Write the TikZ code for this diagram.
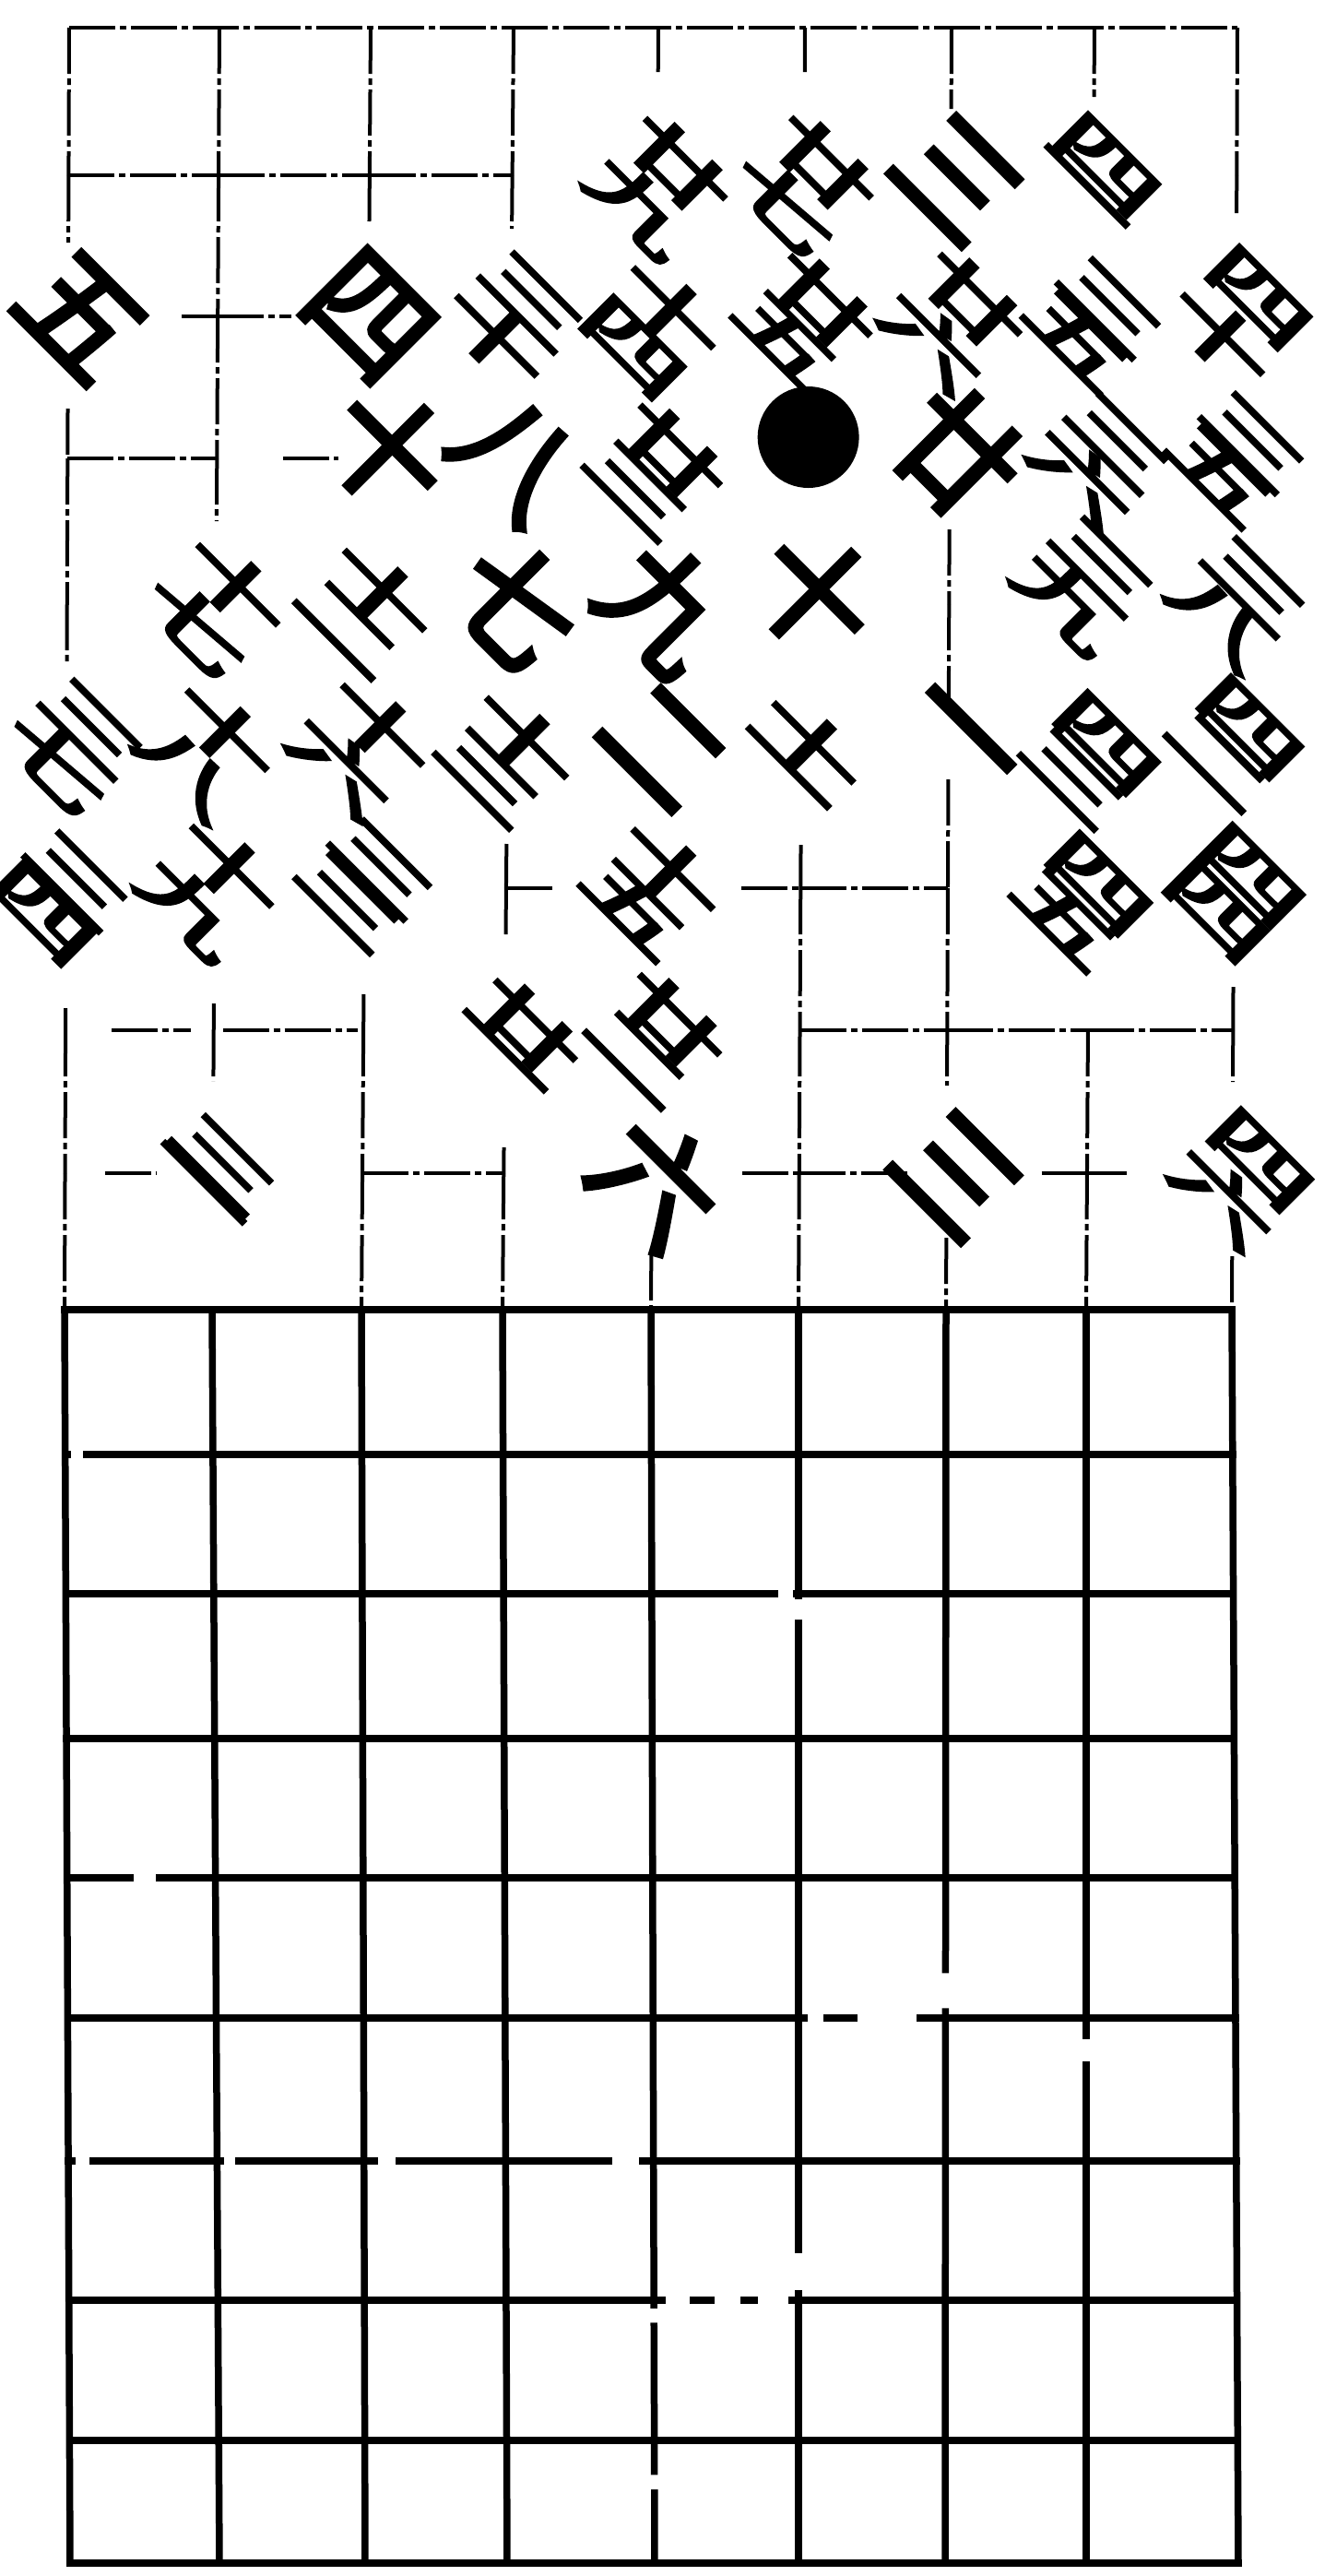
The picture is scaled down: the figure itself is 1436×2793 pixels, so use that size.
\documentclass[tikz,border=0pt]{standalone}
\usepackage{fontspec}
\usepackage{graphicx}
\newfontfamily\cjk[FakeBold=4]{Noto Sans CJK SC}
\usetikzlibrary{calc}
\newcommand\twoch[2]{\vbox{\offinterlineskip\hbox to 1em{\hss\scalebox{1}[0.5]{#1}\hss}\kern2pt\hbox to 1em{\hss\scalebox{1}[0.5]{#2}\hss}}}
\tikzset{
 topln/.style={line width=4pt, dash pattern=on 50pt off 5pt on 7pt off 5pt},
 botln/.style={line width=7.5pt, line cap=rect},
 gap/.style={white, line width=14pt},
 num/.style={font=\cjk\fontsize{132}{132}\selectfont, rotate=-45, inner sep=0pt},
 stone/.style={circle, fill=black, inner sep=0pt, minimum size=110pt},
}
\newcommand\seg[4]{\draw[topln] ($(#1)!#3pt!(#2)$) -- ($(#2)!#4pt!(#1)$);}
\newcommand\gp[4]{\draw[gap] ($(#1)!#3!(#2)$) -- ($(#1)!#4!(#2)$);}
\begin{document}
\begin{tikzpicture}[x=1pt,y=-1pt]
\useasboundingbox (0,0) rectangle (1436,2793);
\fill[white] (0,0) rectangle (1436,2793);
\def\XT{{75,238,402,557,714,873,1032,1187,1342}}
\def\XM{{70,230,392,545,706,866,1026,1178,1336}}
\def\XE{{76,238,396,550,710,866,1025,1178,1343}}
\def\YT{{30,190,343,497,655,810,963,1117,1272,1420}}
\def\YB{{1420,1577,1728,1885,2036,2188,2343,2494,2646,2779}}
\foreach \c in {0,...,8}{
 \foreach \r in {0,...,9}{
  \pgfmathsetmacro\yy{\YT[\r]}
  \pgfmathsetmacro\xx{\XT[\c]+((\yy-30)/1390)*(\XM[\c]-\XT[\c])}
  \coordinate (g\c-\r) at (\xx,\yy);
  \pgfmathsetmacro\yb{\YB[\r]}
  \pgfmathsetmacro\xb{\XM[\c]+((\yb-1420)/1359)*(\XE[\c]-\XM[\c])}
  \coordinate (b\c-\r) at (\xb,\yb);
 }
}
% ---- upper part: broken grid lines
% verticals
\seg{g0-0}{g0-1}{0}{0}\seg{g0-1}{g0-2}{0}{80}\seg{g0-2}{g0-3}{100}{0}\seg{g0-3}{g0-4}{0}{0}
\seg{g0-4}{g0-5}{0}{92}\seg{g0-6}{g0-7}{130}{0}\seg{g0-7}{g0-8}{0}{0}\seg{g0-8}{g0-9}{0}{0}
\seg{g1-0}{g1-1}{0}{0}\seg{g1-1}{g1-2}{0}{0}\seg{g1-2}{g1-3}{0}{0}\seg{g1-3}{g1-4}{0}{90}
\seg{g1-6}{g1-7}{125}{0}\seg{g1-7}{g1-8}{0}{100}
\seg{g2-0}{g2-1}{0}{0}\seg{g2-1}{g2-2}{0}{100}\seg{g2-6}{g2-7}{115}{0}\seg{g2-7}{g2-8}{0}{0}\seg{g2-8}{g2-9}{0}{0}
\seg{g3-0}{g3-1}{0}{0}\seg{g3-1}{g3-2}{0}{95}\seg{g3-5}{g3-6}{105}{0}\seg{g3-6}{g3-7}{0}{100}
\seg{g3-7}{g3-8}{127}{0}\seg{g3-8}{g3-9}{0}{0}
\seg{g4-0}{g4-1}{0}{112}\seg{g4-8}{g4-9}{88}{0}
\seg{g5-0}{g5-1}{0}{112}\seg{g5-5}{g5-6}{106}{0}\seg{g5-6}{g5-7}{0}{0}\seg{g5-7}{g5-8}{0}{0}\seg{g5-8}{g5-9}{0}{0}
\seg{g6-0}{g6-1}{0}{72}\seg{g6-3}{g6-4}{77}{0}\seg{g6-4}{g6-5}{0}{47}\seg{g6-5}{g6-6}{35}{0}
\seg{g6-6}{g6-7}{0}{0}\seg{g6-7}{g6-8}{0}{95}\seg{g6-8}{g6-9}{70}{0}
\seg{g7-0}{g7-1}{0}{85}\seg{g7-7}{g7-8}{0}{0}\seg{g7-8}{g7-9}{0}{0}
\seg{g8-0}{g8-1}{0}{0}\seg{g8-1}{g8-2}{0}{112}\seg{g8-6}{g8-7}{107}{0}\seg{g8-7}{g8-8}{0}{99}\seg{g8-8}{g8-9}{90}{0}
% horizontals
\seg{g0-0}{g8-0}{0}{0}
\seg{g0-1}{g1-1}{0}{0}\seg{g1-1}{g2-1}{0}{0}\seg{g2-1}{g3-1}{0}{0}
\seg{g0-2}{g1-2}{123}{0}\seg{g1-2}{g2-2}{0}{84}
\seg{g0-3}{g1-3}{0}{0}\seg{g1-3}{g2-3}{72}{32}
\seg{g3-6}{g4-6}{0}{108}\seg{g4-6}{g5-6}{95}{0}\seg{g5-6}{g6-6}{0}{0}
\seg{g0-7}{g1-7}{50}{25}\seg{g1-7}{g2-7}{10}{6}\seg{g5-7}{g6-7}{0}{0}\seg{g6-7}{g7-7}{0}{0}\seg{g7-7}{g8-7}{0}{0}
\seg{g0-8}{g1-8}{43}{62}\seg{g2-8}{g3-8}{0}{0}\seg{g4-8}{g5-8}{98}{0}\seg{g5-8}{g6-8}{0}{40}
\seg{g6-8}{g7-8}{103}{0}\seg{g7-8}{g8-8}{0}{115}
% ---- lower part: solid grid
\foreach \c in {0,...,8} \draw[botln] (b\c-0) -- (b\c-9);
\foreach \r in {0,...,9} \draw[botln] (b0-\r) -- (b8-\r);
% breaks in the printed lines
\gp{b6-4}{b6-5}{0.68}{0.93}
\gp{b5-5}{b6-5}{0.06}{0.17}\gp{b5-5}{b6-5}{0.4}{0.8}
\gp{b5-6}{b5-7}{0.66}{0.93}
\gp{b4-7}{b5-7}{0.08}{0.25}\gp{b4-7}{b5-7}{0.42}{0.6}\gp{b4-7}{b5-7}{0.72}{0.93}
\gp{b4-7}{b4-8}{0.06}{0.16}\gp{b4-8}{b4-9}{0.28}{0.4}
\gp{b7-5}{b7-6}{0.15}{0.3}
\gp{b4-2}{b5-2}{0.86}{0.96}\gp{b5-2}{b5-3}{0.04}{0.18}
\gp{b0-6}{b1-6}{0.05}{0.14}\gp{b1-6}{b2-6}{0.05}{0.12}\gp{b2-6}{b3-6}{0.1}{0.22}\gp{b3-6}{b4-6}{0.72}{0.9}
\gp{b0-4}{b1-4}{0.45}{0.6}\gp{b0-1}{b1-1}{0.04}{0.12}
% ---- stone
\node[stone] (stone) at ($(g5-3)+(6,-23)$) {};
% ---- move numbers
\foreach \c/\r/\dx/\dy/\t in {
 4/1/0/12/\twoch{廿}{九}, 5/1/0/10/\twoch{廿}{七}, 6/1/6/4/三, 7/1/4/0/\twoch{四}{一},
 0/2/14/0/五, 2/2/0/0/四, 3/2/0/5/\twoch{三}{十}, 4/2/-4/12/\twoch{十}{四}, 5/2/2/4/\twoch{廿}{五}, 6/2/2/6/\twoch{廿}{六}, 7/2/0/8/\twoch{三}{五}, 8/2/2/2/\twoch{四}{十},
 2/3/22/-10/十, 3/3/6/0/八, 4/3/0/12/\twoch{廿}{三}, 6/3/8/-6/廿, 7/3/6/4/\twoch{三}{六}, 8/3/0/0/\twoch{三}{五},
 1/4/0/2/\twoch{十}{七}, 2/4/0/4/\twoch{十}{二}, 3/4/8/0/七, 4/4/10/4/九, 5/4/14/-12/十, 7/4/-10/-20/\twoch{三}{九}, 8/4/0/0/\twoch{三}{八},
 0/5/6/0/\twoch{三}{七}, 1/5/-10/4/\twoch{十}{八}, 2/5/-6/0/\twoch{十}{六}, 3/5/0/10/\twoch{十}{三}, 4/5/8/0/二, 5/5/0/8/\twoch{十}{一}, 6/5/8/-4/一, 7/5/0/14/\twoch{四}{三}, 8/5/0/-4/\twoch{四}{二},
 0/6/-8/10/\twoch{三}{四}, 1/6/-6/0/\twoch{十}{九}, 2/6/0/-4/\twoch{三}{三}, 4/6/0/0/\twoch{十}{五}, 7/6/-8/14/\twoch{四}{五}, 8/6/0/6/\twoch{四}{四},
 3/7/14/8/\twoch{廿}{一}, 4/7/4/8/\twoch{廿}{二},
 1/8/0/0/\twoch{三}{一}, 4/8/6/10/六, 6/8/10/2/三, 8/8/8/8/\twoch{四}{六}}
 \node[num] (p\c-\r) at ($(g\c-\r)+(\dx,\dy)$) {\t};
\end{tikzpicture}
\end{document}
